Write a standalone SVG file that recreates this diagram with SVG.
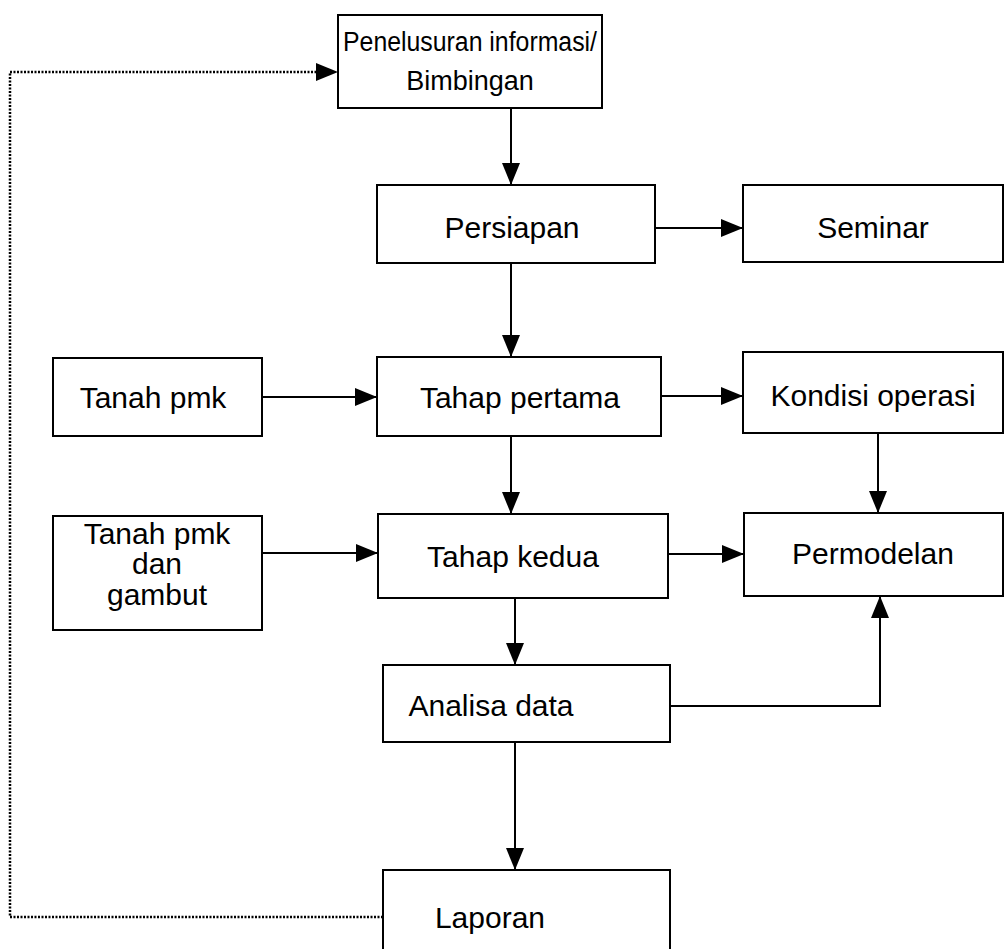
<svg xmlns="http://www.w3.org/2000/svg" width="1006" height="949" viewBox="0 0 1006 949">
<style>
.box{fill:#fff;stroke:#000;stroke-width:2}
.t{font-family:"Liberation Sans",Arial,sans-serif;font-size:30px;fill:#000;text-anchor:middle}
.c{fill:none;stroke:#000;stroke-width:2}
.d{fill:none;stroke:#000;stroke-width:2.5;stroke-dasharray:2 1.5}
</style>
<defs>
<marker id="ah" markerWidth="22" markerHeight="18" refX="22" refY="9" orient="auto" markerUnits="userSpaceOnUse">
<path d="M0,0 L22,9 L0,18 Z" fill="#000"/>
</marker>
</defs>
<rect width="1006" height="949" fill="#fff"/>
<g id="connectors">
<path class="d" d="M383,917 H10 V72 H318"/>
<path d="M316,63 L338,72 L316,81 Z" fill="#000"/>
<path class="c" d="M511,108 V185" marker-end="url(#ah)"/>
<path class="c" d="M655,228 H743" marker-end="url(#ah)"/>
<path class="c" d="M511,263 V357" marker-end="url(#ah)"/>
<path class="c" d="M262,397 H377" marker-end="url(#ah)"/>
<path class="c" d="M661,396 H743" marker-end="url(#ah)"/>
<path class="c" d="M878,433 V513" marker-end="url(#ah)"/>
<path class="c" d="M511,436 V514" marker-end="url(#ah)"/>
<path class="c" d="M262,553 H378" marker-end="url(#ah)"/>
<path class="c" d="M668,554 H744" marker-end="url(#ah)"/>
<path class="c" d="M515,598 V665" marker-end="url(#ah)"/>
<path class="c" d="M670,706 H880 V596" marker-end="url(#ah)"/>
<path class="c" d="M515,742 V870" marker-end="url(#ah)"/>
</g>
<g id="penelusuran">
<rect class="box" x="338" y="15" width="264" height="93"/>
<text class="t" x="470" y="51" textLength="254" lengthAdjust="spacingAndGlyphs" style="font-size:27px">Penelusuran informasi/</text>
<text class="t" x="470" y="90" style="font-size:27px">Bimbingan</text>
</g>
<g id="persiapan">
<rect class="box" x="377" y="185" width="278" height="78"/>
<text class="t" x="512" y="238">Persiapan</text>
</g>
<g id="seminar">
<rect class="box" x="743" y="185" width="260" height="77"/>
<text class="t" x="873" y="238">Seminar</text>
</g>
<g id="tanah-pmk">
<rect class="box" x="53" y="358" width="209" height="78"/>
<text class="t" x="153" y="408">Tanah pmk</text>
</g>
<g id="tahap-pertama">
<rect class="box" x="377" y="357" width="284" height="79"/>
<text class="t" x="520" y="408">Tahap pertama</text>
</g>
<g id="kondisi-operasi">
<rect class="box" x="743" y="352" width="260" height="81"/>
<text class="t" x="873" y="406">Kondisi operasi</text>
</g>
<g id="tanah-pmk-gambut">
<rect class="box" x="53" y="516" width="209" height="114"/>
<text class="t" x="157" y="544">Tanah pmk</text>
<text class="t" x="157" y="574">dan</text>
<text class="t" x="157" y="605">gambut</text>
</g>
<g id="tahap-kedua">
<rect class="box" x="378" y="514" width="290" height="84"/>
<text class="t" x="513" y="567">Tahap kedua</text>
</g>
<g id="permodelan">
<rect class="box" x="744" y="513" width="259" height="83"/>
<text class="t" x="873" y="564">Permodelan</text>
</g>
<g id="analisa-data">
<rect class="box" x="383" y="665" width="287" height="77"/>
<text class="t" x="491" y="716">Analisa data</text>
</g>
<g id="laporan">
<rect class="box" x="383" y="870" width="287" height="90"/>
<text class="t" x="490" y="928">Laporan</text>
</g>
</svg>
